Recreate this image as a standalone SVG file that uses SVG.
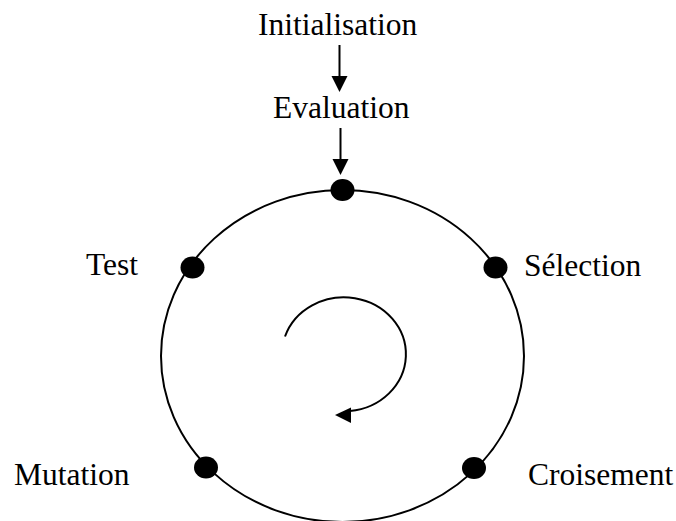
<svg xmlns="http://www.w3.org/2000/svg" width="676" height="521" viewBox="0 0 676 521">
<style>
.lbl{font-family:'Liberation Serif','Times New Roman',serif;font-size:31.5px;fill:#000}
.ln{stroke:#000;stroke-width:2;fill:none}
.dot{fill:#000}
.head{fill:#000}
</style>
<rect width="676" height="521" fill="#fff"/>
<g id="cycle">
<ellipse class="ln" cx="342.5" cy="356" rx="181.5" ry="166"/>
</g>
<g id="connectors">
<line class="ln" x1="339.5" y1="45" x2="339.5" y2="78"/>
<polygon class="head" points="331.5,76 347.5,76 339.5,92"/>
<line class="ln" x1="340.5" y1="128" x2="340.5" y2="161"/>
<polygon class="head" points="332.5,159 348.5,159 340.5,175"/>
<path class="ln" d="M285,336.5 A62,57 0 1,1 350,411"/>
<polygon class="head" points="335,415 351,407.5 351,423"/>
</g>
<g id="initialisation"><text class="lbl" x="258" y="35">Initialisation</text></g>
<g id="evaluation"><ellipse class="dot" cx="342.5" cy="190" rx="12" ry="11"/><text class="lbl" x="273" y="118">Evaluation</text></g>
<g id="test"><ellipse class="dot" cx="192.5" cy="267.5" rx="12" ry="11"/><text class="lbl" x="86" y="275">Test</text></g>
<g id="selection"><ellipse class="dot" cx="495.5" cy="267.5" rx="12" ry="11"/><text class="lbl" x="524" y="276">Sélection</text></g>
<g id="mutation"><ellipse class="dot" cx="206" cy="467.5" rx="12" ry="11"/><text class="lbl" x="14" y="485">Mutation</text></g>
<g id="croisement"><ellipse class="dot" cx="474" cy="468" rx="12" ry="11"/><text class="lbl" x="528" y="485">Croisement</text></g>
</svg>
